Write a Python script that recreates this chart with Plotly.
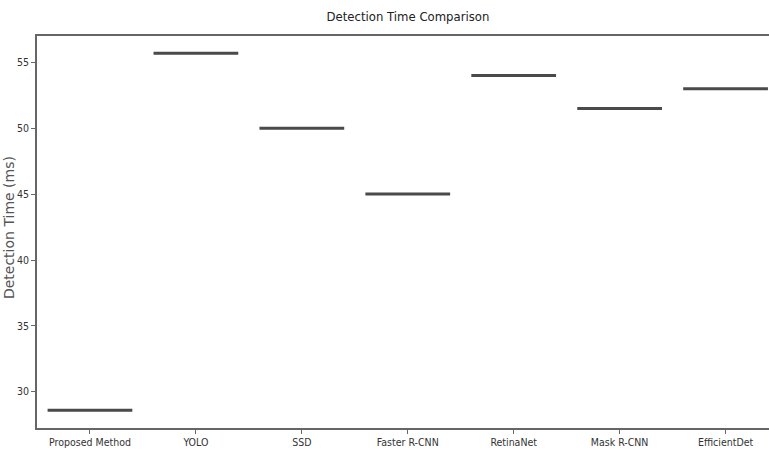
import plotly.graph_objects as go

methods = ["Proposed Method", "YOLO", "SSD", "Faster R-CNN", "RetinaNet", "Mask R-CNN", "EfficientDet"]
detection_ms = [28.6, 55.7, 50.0, 45.0, 54.0, 51.5, 53.0]
y_ticks = [30, 35, 40, 45, 50, 55]

narrow = "DejaVu Sans Condensed, Roboto Condensed, Liberation Sans Narrow, Arial Narrow, Roboto, sans-serif"

fig = go.Figure()
fig.add_trace(go.Box(
    x=methods,
    y=detection_ms,
    line=dict(color="#4a4a4a", width=3),
    fillcolor="#4a4a4a",
    boxpoints=False,
    hoverinfo="skip",
    showlegend=False,
))

fig.add_annotation(
    text="Detection Time (ms)", textangle=-90,
    xref="paper", yref="paper", x=(9 - 37) / 732, y=0.51,
    xanchor="center", yanchor="middle", showarrow=False,
    font=dict(family="DejaVu Sans", size=14, color="#555"),
)

fig.update_layout(
    width=769, height=454,
    margin=dict(l=37, r=0, t=36, b=26),
    plot_bgcolor="white", paper_bgcolor="white",
    boxgap=0.2, boxgroupgap=0,
    title=dict(text="Detection Time Comparison", x=408 / 769, xanchor="center",
               y=1 - 16 / 454, yanchor="middle", yref="container",
               font=dict(family=narrow, size=13, color="#222")),
    xaxis=dict(
        type="category", categoryorder="array", categoryarray=methods,
        range=[-0.5, 6.41],
        showline=True, linecolor="#666", linewidth=1.5, mirror=True,
        ticks="outside", ticklen=4, tickcolor="#666",
        showgrid=False, zeroline=False,
        tickfont=dict(family=narrow, size=10.5, color="#333"),
    ),
    yaxis=dict(
        range=[27.25, 57.0],
        tickvals=y_ticks,
        showline=True, linecolor="#666", linewidth=1.5,
        ticks="outside", ticklen=4, tickcolor="#666",
        showgrid=False, zeroline=False,
        tickfont=dict(family=narrow, size=10.5, color="#333"),
    ),
)

fig.write_html("out.html")
